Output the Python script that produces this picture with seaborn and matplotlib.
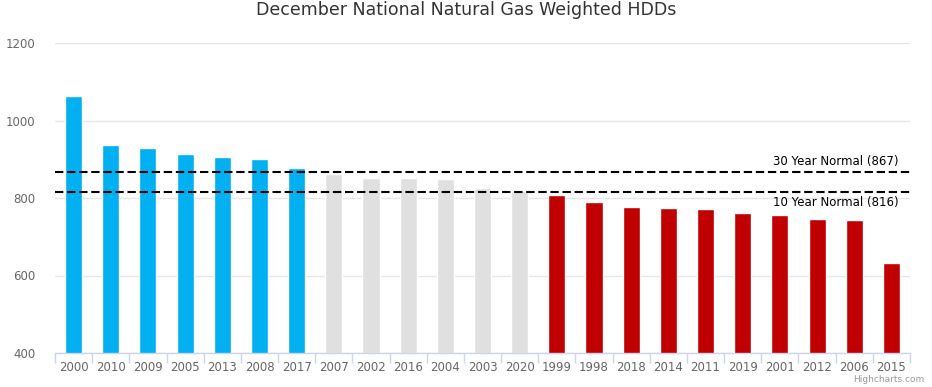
import numpy as np
import pandas as pd
import seaborn as sns
import matplotlib.pyplot as plt

years = ['2000', '2010', '2009', '2005', '2013', '2008', '2017', '2007', '2002', '2016', '2004', '2003',
         '2020', '1999', '1998', '2018', '2014', '2011', '2019', '2001', '2012', '2006', '2015']
hdds = [1064, 938, 930, 914, 906, 901, 878, 862, 852, 852, 849, 826,
        819, 808, 790, 777, 775, 772, 762, 757, 746, 743, 631]
groups = ['above'] * 7 + ['near'] * 6 + ['below'] * 10
normal_30 = 867
normal_10 = 816

group_colors = {'above': '#00b0f0', 'near': '#e0e0e0', 'below': '#c00000'}

df = pd.DataFrame({'Year': years, 'HDD': hdds, 'Group': groups})

sns.set_style('white')
plt.rcParams['font.family'] = ['DejaVu Sans']

fig = plt.figure(figsize=(9.32, 3.87), dpi=100)
ax = fig.add_axes([55 / 932, 1 - 353 / 387, 855 / 932, 310 / 387])

sns.barplot(data=df, x='Year', y='HDD', hue='Year', order=years,
            palette=[group_colors[g] for g in groups], legend=False,
            width=0.46, saturation=1, ax=ax)

ax.set_ylim(400, 1200)
ax.set_xlim(-0.5, len(years) - 0.5)
ax.set_yticks([400, 600, 800, 1000, 1200])
ax.yaxis.grid(True, color='#e6e6e6', linewidth=1)
ax.set_axisbelow(True)
ax.set_xlabel('')
ax.set_ylabel('')

for s in ['top', 'right', 'left']:
    ax.spines[s].set_visible(False)
ax.spines['bottom'].set_color('#ccd6eb')
ax.spines['bottom'].set_linewidth(1)

ax.tick_params(axis='y', length=0, labelsize=8.5, labelcolor='#666666', pad=14)
ax.tick_params(axis='x', which='major', length=0, labelsize=8.5, labelcolor='#666666', pad=6)
ax.set_xticks(np.arange(-0.5, len(years), 1), minor=True)
ax.tick_params(axis='x', which='minor', bottom=True, length=7, color='#ccd6eb', width=1)

for val, label, dy, va in [(normal_30, '30 Year Normal (867)', 3, 'bottom'),
                           (normal_10, '10 Year Normal (816)', -3, 'top')]:
    ax.axhline(val, color='black', linewidth=1.5, linestyle=(0, (4, 1.8)), zorder=5)
    ax.annotate(label, xy=(1, val), xycoords=('axes fraction', 'data'),
                xytext=(-8.5, dy), textcoords='offset points',
                ha='right', va=va, fontsize=8.5, color='black')

fig.text(0.5, 1 - 10 / 387, 'December National Natural Gas Weighted HDDs',
         ha='center', va='center', fontsize=12.5, color='#333333')
fig.text(1 - 8 / 932, 1 - 380 / 387, 'Highcharts.com', ha='right', va='center',
         fontsize=6.5, color='#999999')

fig.savefig('out.png', dpi=100)
